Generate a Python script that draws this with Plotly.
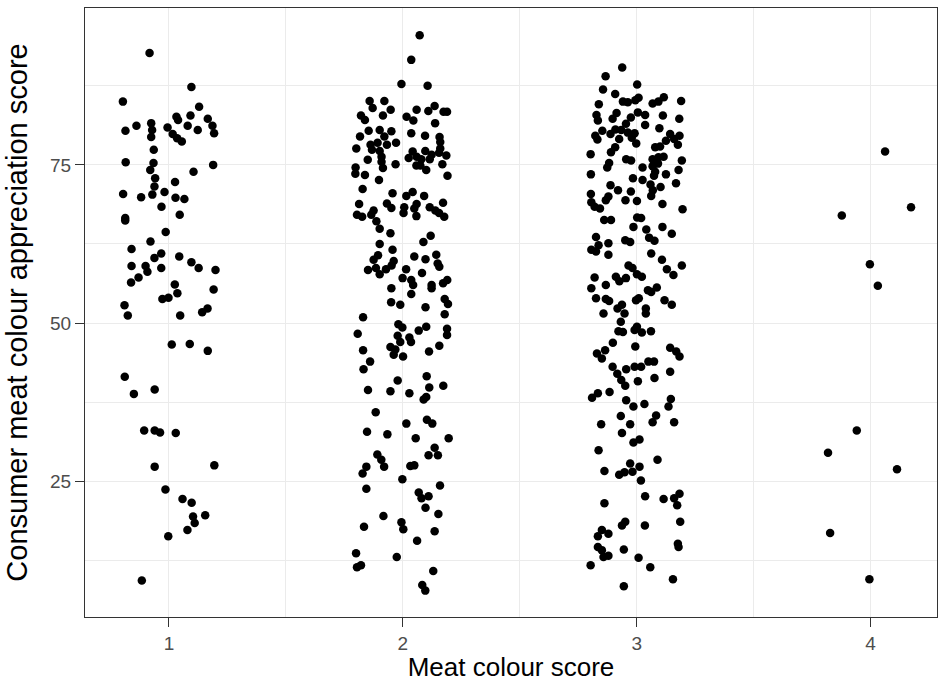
import plotly.graph_objects as go

# Meat colour score 1: jitter offsets and consumer appreciation scores
jit_1 = [-0.083, 0.096, -0.197, 0.129, 0.032, 0.092, 0.166, -0.139, -0.076, -0.186,
         -0.072, -0.006, 0.039, 0.080, 0.123, 0.186, 0.193, -0.076, 0.016, 0.035,
         0.055, -0.065, -0.185, -0.066, -0.080, 0.189, 0.105, -0.059, -0.062, 0.026,
         -0.196, -0.119, -0.071, -0.019, -0.032, 0.028, 0.066, 0.046, -0.187, -0.187,
         -0.014, -0.079, -0.160, -0.033, -0.062, 0.044, 0.096, 0.127, 0.199, -0.160,
         -0.100, -0.092, -0.033, -0.162, -0.130, 0.025, 0.036, 0.191, -0.028, -0.002,
         -0.190, -0.176, 0.048, 0.142, 0.165, 0.012, 0.089, 0.166, -0.189, -0.150,
         -0.061, -0.106, -0.061, -0.038, 0.029, -0.061, 0.194, -0.015, 0.058, 0.097,
         0.103, 0.155, 0.110, 0.079, -0.003, -0.116]
app_1 = [92.7, 87.3, 85.0, 84.2, 82.6, 82.8, 82.3, 81.2, 81.6, 80.4,
         80.5, 80.9, 82.1, 81.2, 80.5, 81.2, 80.0, 79.4, 79.9, 79.2,
         78.7, 77.4, 75.4, 75.3, 74.2, 75.0, 73.9, 72.9, 71.6, 72.3,
         70.4, 69.9, 70.3, 70.7, 68.4, 69.8, 69.6, 67.1, 66.6, 66.2,
         64.4, 62.9, 61.7, 61.0, 60.3, 60.5, 59.6, 58.7, 58.4, 59.0,
         59.0, 58.1, 58.7, 56.4, 57.2, 56.1, 54.7, 55.3, 53.8, 54.0,
         52.8, 51.2, 51.2, 51.7, 52.3, 46.6, 46.7, 45.6, 41.5, 38.8,
         39.5, 33.0, 33.0, 32.7, 32.6, 27.3, 27.5, 23.7, 22.2, 21.6,
         19.4, 19.6, 18.4, 17.3, 16.3, 9.3]

# Meat colour score 2
jit_2 = [0.072, 0.036, -0.006, 0.106, -0.142, -0.129, -0.079, -0.052, -0.085, -0.179,
         -0.162, 0.059, 0.109, 0.136, 0.174, 0.189, 0.016, 0.045, 0.138, -0.146,
         -0.099, -0.049, -0.079, -0.183, 0.036, 0.095, 0.157, 0.160, -0.199, -0.138,
         -0.108, -0.068, -0.029, -0.132, -0.099, -0.091, 0.042, 0.096, 0.160, 0.155,
         0.186, 0.025, 0.059, 0.079, 0.115, 0.123, -0.150, -0.091, -0.031, 0.058,
         0.075, 0.169, -0.202, -0.085, 0.100, -0.203, -0.162, 0.191, -0.102, -0.172,
         -0.044, 0.015, 0.042, 0.091, -0.187, -0.068, -0.049, 0.006, 0.059, 0.049,
         0.115, 0.172, -0.125, -0.196, -0.135, 0.003, 0.139, 0.155, 0.177, 0.058,
         -0.174, -0.113, -0.099, -0.053, 0.119, 0.088, -0.099, -0.044, -0.106, -0.125,
         -0.039, 0.049, 0.097, 0.143, 0.149, 0.156, -0.149, -0.115, -0.099, -0.072,
         -0.048, 0.014, 0.082, -0.001, 0.036, 0.044, 0.123, 0.123, 0.172, 0.190,
         -0.049, 0.036, 0.179, 0.193, -0.050, -0.011, 0.097, 0.179, -0.170, -0.019,
         -0.002, 0.100, 0.068, 0.189, 0.189, -0.193, -0.022, 0.028, 0.035, -0.011,
         -0.053, -0.032, -0.039, 0.001, 0.156, 0.112, -0.170, -0.140, -0.168, -0.022,
         0.102, 0.113, 0.173, -0.149, -0.053, 0.028, 0.100, 0.089, -0.116, 0.015,
         0.103, 0.126, -0.153, -0.066, 0.055, 0.196, 0.136, 0.110, 0.150, -0.109,
         -0.092, -0.080, -0.156, -0.172, 0.032, 0.049, -0.002, 0.159, -0.156, 0.068,
         0.080, 0.110, 0.097, 0.152, -0.083, -0.006, 0.002, -0.166, 0.136, 0.061,
         -0.200, -0.026, -0.196, -0.179, 0.130, 0.083, 0.096]
app_2 = [95.5, 91.6, 87.8, 87.5, 85.1, 84.0, 85.1, 83.7, 82.8, 82.8,
         82.1, 83.7, 83.5, 84.3, 83.4, 83.4, 82.6, 82.0, 81.6, 80.4,
         80.5, 80.3, 79.5, 79.5, 80.0, 79.6, 79.4, 78.6, 77.6, 78.2,
         78.5, 78.2, 78.5, 77.4, 77.2, 76.3, 77.1, 77.2, 77.6, 76.9,
         76.5, 76.1, 76.3, 75.9, 75.9, 76.6, 75.8, 75.5, 75.1, 74.9,
         74.9, 75.1, 74.6, 74.5, 74.2, 73.6, 73.4, 73.3, 72.6, 71.2,
         70.5, 70.1, 70.7, 70.1, 68.8, 68.9, 68.2, 68.3, 68.8, 68.1,
         68.3, 69.0, 67.8, 67.1, 67.1, 67.4, 67.8, 67.4, 66.8, 66.9,
         66.8, 66.1, 64.9, 64.2, 63.8, 62.8, 62.5, 61.6, 60.7, 60.0,
         59.8, 60.5, 60.1, 60.8, 59.4, 58.9, 58.4, 58.7, 57.7, 58.5,
         59.1, 58.5, 57.9, 57.1, 56.8, 56.0, 56.0, 55.5, 56.3, 56.8,
         55.5, 54.6, 53.8, 53.0, 53.3, 52.9, 52.5, 51.4, 50.9, 49.8,
         49.3, 49.4, 48.8, 49.1, 48.1, 48.3, 48.0, 47.7, 47.0, 47.0,
         46.2, 45.8, 45.0, 44.7, 46.4, 45.5, 45.7, 43.9, 42.7, 40.9,
         41.6, 39.8, 40.1, 39.4, 39.2, 38.9, 38.3, 37.9, 35.9, 34.1,
         34.7, 34.1, 32.8, 32.4, 31.8, 31.8, 30.3, 29.1, 29.1, 29.2,
         28.4, 27.3, 27.3, 26.2, 27.4, 27.5, 25.3, 24.3, 23.8, 23.2,
         22.3, 22.6, 20.8, 19.8, 19.5, 18.5, 17.4, 17.8, 17.1, 15.6,
         13.6, 13.0, 11.4, 11.7, 10.8, 8.6, 7.7]

# Meat colour score 3
jit_3 = [-0.062, -0.133, 0.002, -0.144, -0.092, 0.008, 0.116, 0.190, -0.059, -0.038,
         -0.006, 0.068, 0.093, -0.162, 0.005, -0.086, 0.036, 0.112, -0.172, -0.166,
         -0.103, -0.025, 0.182, -0.046, 0.036, -0.147, -0.112, -0.091, -0.066, -0.038,
         -0.009, 0.097, -0.177, -0.168, -0.075, -0.021, -0.002, 0.143, 0.160, 0.183,
         0.125, 0.176, -0.092, -0.110, 0.079, 0.100, -0.197, -0.045, -0.024, 0.068,
         0.093, 0.115, 0.193, -0.118, -0.126, 0.025, 0.068, 0.091, 0.079, 0.179,
         -0.196, 0.074, 0.125, -0.016, 0.025, 0.168, -0.112, 0.059, -0.080, 0.102,
         0.069, -0.025, -0.121, -0.196, 0.062, -0.048, 0.001, -0.132, -0.194, -0.180,
         -0.157, 0.110, 0.196, -0.139, -0.110, 0.002, 0.019, -0.014, 0.110, 0.041,
         -0.174, -0.163, -0.194, -0.174, -0.121, -0.121, -0.049, -0.028, 0.053, 0.076,
         0.150, 0.062, 0.108, 0.129, 0.157, 0.193, -0.035, -0.018, 0.001, 0.022,
         -0.089, -0.074, -0.046, -0.180, -0.132, -0.194, 0.048, 0.086, 0.062, -0.174,
         -0.132, -0.118, -0.003, 0.009, 0.119, 0.150, -0.063, -0.082, -0.052, -0.142,
         0.039, 0.039, -0.068, -0.078, -0.059, 0.001, -0.009, 0.022, 0.061, -0.102,
         -0.006, -0.135, -0.170, -0.149, 0.143, 0.169, 0.183, 0.050, 0.074, -0.103,
         -0.045, -0.009, 0.019, -0.083, 0.143, -0.066, -0.049, 0.005, 0.076, -0.116,
         -0.166, -0.191, -0.045, 0.146, -0.014, 0.033, 0.136, -0.068, 0.083, -0.152,
         -0.028, 0.068, 0.160, -0.063, -0.014, 0.012, -0.163, 0.089, -0.138, -0.075,
         -0.052, -0.028, -0.018, 0.012, 0.018, 0.036, 0.115, 0.160, 0.183, 0.173,
         -0.138, -0.049, -0.063, 0.035, 0.186, -0.149, -0.121, -0.166, 0.176, 0.179,
         -0.166, -0.149, -0.055, -0.121, -0.142, 0.008, -0.197, 0.058, 0.155, -0.055]
app_3 = [90.4, 89.0, 87.7, 86.9, 86.2, 85.6, 85.7, 85.1, 85.0, 84.9,
         85.2, 84.7, 85.0, 84.6, 83.3, 83.2, 82.9, 82.8, 82.9, 82.0,
         82.3, 82.5, 82.3, 81.5, 81.3, 80.4, 79.9, 80.6, 80.5, 80.1,
         80.0, 80.8, 79.6, 79.0, 79.1, 79.3, 78.4, 79.9, 79.1, 79.6,
         78.8, 78.2, 77.8, 77.0, 77.8, 77.9, 76.7, 75.9, 75.7, 75.9,
         76.2, 76.3, 75.7, 75.3, 74.6, 74.6, 74.8, 75.2, 73.9, 74.2,
         73.5, 73.3, 73.5, 72.9, 72.6, 72.1, 71.8, 71.9, 71.0, 71.5,
         71.0, 70.8, 70.0, 70.4, 70.1, 69.4, 69.3, 69.4, 69.1, 68.4,
         68.1, 68.8, 68.0, 66.3, 66.3, 66.7, 66.6, 65.2, 65.2, 64.8,
         63.6, 62.3, 61.6, 61.3, 62.6, 60.8, 63.1, 62.8, 63.5, 63.0,
         64.1, 61.0, 60.0, 58.5, 57.6, 59.1, 59.1, 58.7, 57.7, 57.3,
         57.3, 56.6, 57.1, 57.2, 56.0, 55.5, 55.2, 55.6, 54.9, 53.9,
         53.8, 53.5, 53.6, 53.9, 53.6, 52.9, 52.9, 52.3, 51.5, 51.5,
         52.3, 51.5, 50.2, 48.7, 48.6, 49.4, 48.9, 48.5, 48.7, 46.9,
         46.3, 45.7, 45.2, 44.4, 46.1, 45.5, 44.7, 43.9, 43.9, 43.1,
         42.7, 43.1, 43.1, 42.0, 42.3, 41.0, 40.1, 40.8, 41.3, 39.1,
         38.9, 38.2, 37.8, 38.0, 36.8, 37.2, 36.8, 35.3, 35.4, 34.0,
         34.0, 34.3, 34.3, 32.6, 31.1, 31.6, 29.9, 28.4, 26.6, 26.0,
         26.4, 27.8, 26.5, 27.3, 25.1, 22.6, 22.2, 22.3, 23.0, 21.2,
         21.5, 18.6, 18.0, 18.0, 18.6, 17.3, 16.7, 16.3, 15.1, 14.6,
         14.6, 14.1, 14.2, 13.2, 13.0, 12.9, 11.7, 11.4, 9.5, 8.4]

# Meat colour score 4
jit_4 = [0.062, 0.173, -0.123, -0.003, 0.031, -0.059, -0.182, 0.113, -0.173, -0.005]
app_4 = [77.1, 68.3, 67.0, 59.3, 55.9, 33.0, 29.5, 26.9, 16.8, 9.5]

groups = [(1, jit_1, app_1), (2, jit_2, app_2), (3, jit_3, app_3), (4, jit_4, app_4)]

xs, ys = [], []
for score, jit, app in groups:
    xs += [score + j for j in jit]
    ys += app

x_ticks = [1, 2, 3, 4]
y_ticks = [25, 50, 75]

FONT = "Liberation Sans, Arial, sans-serif"

fig = go.Figure()
fig.add_trace(go.Scatter(x=xs, y=ys, mode="markers",
                         marker=dict(color="black", size=8.5, line=dict(width=0)),
                         hoverinfo="x+y", showlegend=False))

grid = "#EBEBEB"
axis_common = dict(showline=True, mirror=True, linecolor="#333333", linewidth=1,
                   ticks="outside", ticklen=9, tickcolor="#333333", tickwidth=1,
                   showgrid=True, gridcolor=grid, gridwidth=1.2, zeroline=False,
                   tickfont=dict(family=FONT, size=19, color="#4D4D4D"))

fig.update_xaxes(range=[0.641, 4.284], tickvals=x_ticks, ticktext=[str(t) for t in x_ticks],
                 minor=dict(tickvals=[1.5, 2.5, 3.5], showgrid=True, gridcolor=grid, gridwidth=0.6, ticks=""),
                 title=dict(text="Meat colour score", standoff=6,
                            font=dict(family=FONT, size=26, color="black")),
                 **axis_common)
fig.update_yaxes(range=[3.53, 99.8], tickvals=y_ticks, ticktext=[str(t) for t in y_ticks],
                 minor=dict(tickvals=[12.5, 37.5, 62.5, 87.5], showgrid=True, gridcolor=grid, gridwidth=0.6, ticks=""),
                 title=dict(text="Consumer meat colour appreciation score", standoff=13,
                            font=dict(family=FONT, size=29, color="black")),
                 **axis_common)

fig.update_layout(width=939, height=682, plot_bgcolor="white", paper_bgcolor="white",
                  margin=dict(l=85, r=2, t=8, b=65))

fig.write_html("out.html")
